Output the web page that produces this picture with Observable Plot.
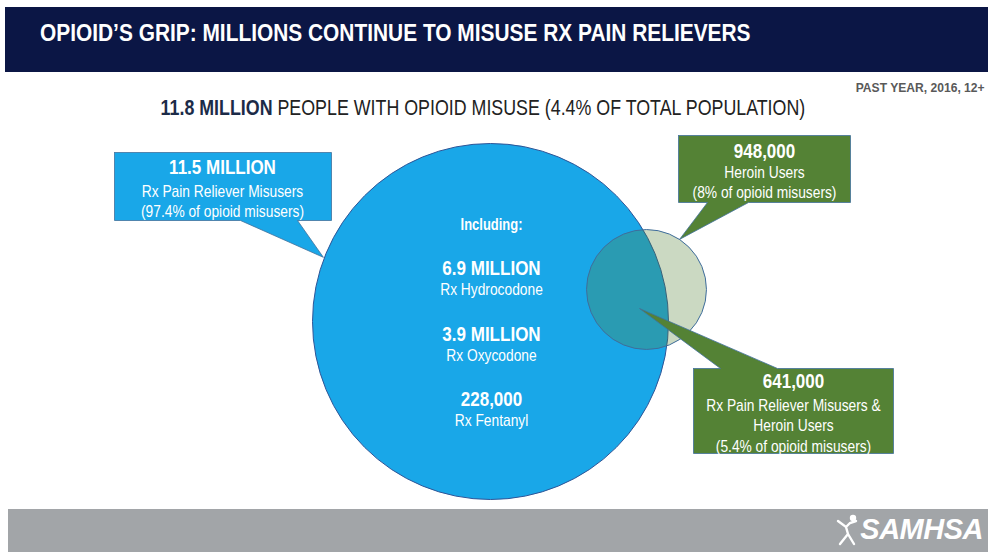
<!DOCTYPE html>
<html><head><meta charset="utf-8">
<script src="https://cdn.jsdelivr.net/npm/d3@7"></script>
<script src="https://cdn.jsdelivr.net/npm/@observablehq/plot@0.6"></script>
<style>
html,body{margin:0;padding:0;background:#fff;}
body{width:988px;height:552px;overflow:hidden;font-family:"Liberation Sans Narrow","Arial Narrow","Liberation Sans",sans-serif;}
#hdr{margin:7px 0 0 5px;height:65px;background:#0b1645;color:#fff;font-weight:bold;font-size:23px;line-height:52px;padding-left:35px;box-sizing:border-box;white-space:nowrap;}
#hdr span{display:inline-block;transform:scaleX(0.908);transform-origin:0 50%;}
#sub{position:relative;height:53px;}
#note{position:absolute;right:3px;top:8px;font-size:13px;font-weight:bold;color:#595959;transform:scaleX(0.93);transform-origin:100% 50%;}
#headline{position:absolute;left:0;width:966px;text-align:center;top:23px;font-size:22px;color:#222;white-space:nowrap;}
#headline span{display:inline-block;transform:scaleX(0.81);transform-origin:50% 50%;}
#headline b{color:#1c2b48;}
#chart{height:384px;}
#chart svg{display:block;}
#ftr{margin-left:8px;height:43px;background:#a2a5a8;position:relative;}
#logo{position:absolute;right:5px;top:3px;display:flex;align-items:center;color:#fff;font-family:"Liberation Sans","Arial",sans-serif;font-weight:bold;font-style:italic;font-size:29px;letter-spacing:-0.5px;}
</style>
</head>
<body>
<div id="hdr"><span id="title"></span></div>
<div id="sub"><div id="note"></div><div id="headline"><span id="hl"></span></div></div>
<div id="chart"></div>
<div id="ftr"><div id="logo"><svg width="24" height="34" viewBox="0 0 24 34"><circle cx="17" cy="6" r="3.2" fill="#fff"/><path d="M2 9 L10 15 L14 11 L20 9 M10 15 L12 22 L4 32 M12 22 L18 32" stroke="#fff" stroke-width="2.4" fill="none" stroke-linecap="round"/></svg><span>SAMHSA</span></div></div>
<script>
// ---------- data ----------
const title = "OPIOID’S GRIP: MILLIONS CONTINUE TO MISUSE RX PAIN RELIEVERS";
const period = "PAST YEAR, 2016, 12+";
const totalMillions = 11.8;
const totalPopulationShare = 4.4;
const setNames = ["Rx Pain Reliever Misusers", "Heroin Users"];
const setMillions = [11.5, 0.948];
const setShareOfMisusers = [97.4, 8];
const overlapNameLines = ["Rx Pain Reliever Misusers &", "Heroin Users"];
const overlapMillions = 0.641;
const overlapShare = 5.4;
const drugNames = ["Rx Hydrocodone", "Rx Oxycodone", "Rx Fentanyl"];
const drugMillions = [6.9, 3.9, 0.228];

// ---------- formatting ----------
const fmt = v => v >= 1 ? `${d3.format(".1f")(v)} MILLION` : d3.format(",")(Math.round(v * 1e6));
const shareText = s => `(${s}% of opioid misusers)`;

document.getElementById("title").textContent = title;
document.getElementById("note").textContent = period;
document.getElementById("hl").innerHTML =
  `<b>${fmt(totalMillions)}</b> PEOPLE WITH OPIOID MISUSE (${totalPopulationShare}% OF TOTAL POPULATION)`;

// ---------- layout (chart units) ----------
const W = 988, H = 384;
const rOpts = {type: "pow", exponent: 0.436, domain: [0, 11.5], range: [0, 178]};
const rScale = Plot.scale({r: rOpts});
const centers = [[490, 196], [646, 164]];
const circles = setMillions.map((v, i) => ({name: setNames[i], value: v, cx: centers[i][0], cy: centers[i][1]}));
const R = circles.map(c => rScale.apply(c.value));

const blue = "#19a7e8", green = "#548235", edge = "#41719c";

function onCircle(i, deg, pad = 0) {
  const a = deg * Math.PI / 180;
  return [circles[i].cx + (R[i] + pad) * Math.cos(a), circles[i].cy + (R[i] + pad) * Math.sin(a)];
}
const callouts = [
  {id: "rx", x1: 114, x2: 331, y1: 27, y2: 95, side: "bottom", base: [240, 297], tip: onCircle(0, 201, 1), fill: blue,
   cx: 222, vy: 42, ly: 66,
   lines: [fmt(setMillions[0]), setNames[0], shareText(setShareOfMisusers[0])]},
  {id: "heroin", x1: 678, x2: 850, y1: 10, y2: 77, side: "bottom", base: [707, 748], tip: onCircle(1, -56.6, 0), fill: green,
   cx: 764, vy: 26, ly: 47,
   lines: [fmt(setMillions[1]), setNames[1], shareText(setShareOfMisusers[1])]},
  {id: "both", x1: 693, x2: 893, y1: 243, y2: 328, side: "top", base: [720, 777], tip: [circles[1].cx - 7, circles[1].cy + 19], fill: green,
   cx: 793, vy: 256, ly: 280,
   lines: [fmt(overlapMillions), ...overlapNameLines, shareText(overlapShare)]}
];
function outline(c) {
  const [tx, ty] = c.tip;
  const p = c.side === "bottom"
    ? [[c.x1, c.y1], [c.x2, c.y1], [c.x2, c.y2], [c.base[1], c.y2], [tx, ty], [c.base[0], c.y2], [c.x1, c.y2], [c.x1, c.y1]]
    : [[c.x1, c.y1], [c.base[0], c.y1], [tx, ty], [c.base[1], c.y1], [c.x2, c.y1], [c.x2, c.y2], [c.x1, c.y2], [c.x1, c.y1]];
  return p.map(([x, y]) => ({x, y}));
}
const lineGap = 20.5;
const boldRows = [], plainRows = [];
for (const c of callouts) {
  boldRows.push({x: c.cx, y: c.vy, text: c.lines[0], size: 21});
  c.lines.slice(1).forEach((t, i) => plainRows.push({x: c.cx, y: c.ly + i * lineGap, text: t}));
}
// inside the big circle
const innerX = circles[0].cx + 1;
boldRows.push({x: innerX, y: 99, text: "Including:", size: 16});
drugMillions.forEach((v, i) => {
  boldRows.push({x: innerX, y: 143 + i * 65.5, text: fmt(v), size: 21});
  plainRows.push({x: innerX, y: 164.5 + i * 65.5, text: drugNames[i]});
});

const font = `"Liberation Sans Narrow","Arial Narrow","Liberation Sans",sans-serif`;
const chart = Plot.plot({
  width: W, height: H, margin: 0,
  x: {domain: [0, W], range: [0, W], axis: null},
  y: {domain: [0, H], range: [0, H], axis: null},
  r: rOpts,
  style: {fontFamily: font, background: "transparent"},
  marks: [
    Plot.dot(circles.slice(0, 1), {x: "cx", y: "cy", r: "value", fill: blue, stroke: "#2f5597", strokeWidth: 1}),
    Plot.dot(circles.slice(1), {x: "cx", y: "cy", r: "value", fill: green, fillOpacity: 0.3, stroke: "#3f6d9c", strokeWidth: 1}),
    ...callouts.map(c => Plot.line(outline(c), {x: "x", y: "y", fill: c.fill, stroke: edge, strokeWidth: 0.8, curve: "linear"})),
    Plot.text(boldRows.filter(d => d.size === 21), {x: "x", y: "y", text: "text", fill: "white", fontWeight: "bold", fontSize: 21}),
    Plot.text(boldRows.filter(d => d.size === 16), {x: "x", y: "y", text: "text", fill: "white", fontWeight: "bold", fontSize: 16}),
    Plot.text(plainRows, {x: "x", y: "y", text: "text", fill: "white", fontSize: 17})
  ]
});
document.getElementById("chart").appendChild(chart);
// emulate the narrow typeface: compress each label horizontally
chart.querySelectorAll("text").forEach(t => {
  const L = t.getComputedTextLength();
  if (L > 0) {
    t.setAttribute("textLength", (L * 0.81).toFixed(1));
    t.setAttribute("lengthAdjust", "spacingAndGlyphs");
  }
});
</script>
</body></html>
